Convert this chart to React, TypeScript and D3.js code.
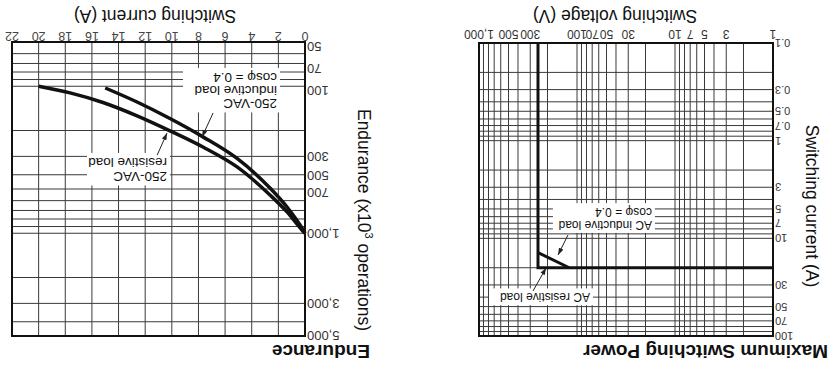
import * as d3 from 'd3';

const FONT = '"Liberation Sans", Arial, Helvetica, sans-serif';

// ---- Maximum Switching Power ----
const voltageTicks = [1, 3, 5, 7, 10, 30, 50, 70, 100, 300, 500, 1000];
const voltageLabels = ['1', '3', '5', '7', '10', '30', '50', '70', '100', '300', '500', '1,000'];
const currentTicks = [0.1, 0.3, 0.5, 0.7, 1, 3, 5, 7, 10, 30, 50, 70, 100];
const currentLabels = ['0.1', '0.3', '0.5', '0.7', '1', '3', '5', '7', '10', '30', '50', '70', '100'];
// [voltage V, current A]
const acResistive: [number, number][] = [[1, 20], [250, 20], [250, 0.1]];
const acInductive: [number, number][] = [[120, 20], [250, 14]];

// ---- Endurance ----
const ampTicks = [0, 2, 4, 6, 8, 10, 12, 14, 16, 18, 20, 22];
const enduranceLabels = ['50', '70', '100', '300', '500', '700', '1,000', '3,000', '5,000'];
// the printed chart puts some labels off their grid line; value each label sits at
const enduranceLabelAt = [54, 76, 107, 300, 408, 532, 1000, 3000, 5000];
// [current A, x10^3 operations]
const resistiveEndurance: [number, number][] = [
  [20, 100], [17.64, 111], [15.17, 129], [12.61, 159], [10.14, 201], [7.66, 259],
  [5.1, 354], [2.63, 549], [1.35, 716], [0.23, 950], [0, 1000],
];
const inductiveEndurance: [number, number][] = [
  [15, 102.7], [12.61, 128], [10.14, 165.7], [7.66, 221], [5.1, 310], [2.63, 492],
  [1.35, 663], [0.23, 921], [0, 1000],
];

// annotations, in data units of each panel
const powerNotes = [
  { lines: ['AC inductive load', 'cosφ = 0.4'], at: [17.2, 6.6], w: 102, lh: 13, from: [123.6, 9.25], to: [156, 14.8] },
  { lines: ['AC resistive load'], at: [73.7, 36.3], w: 104, lh: 13, from: [281, 34.6], to: [207, 20.1] },
];
const enduranceNotes = [
  { lines: ['250-VAC', 'inductive load', 'cosφ = 0.4'], at: [2.1, 122], w: 97, lh: 13, from: [6.9, 152], to: [7.73, 221] },
  { lines: ['250-VAC', 'resistive load'], at: [10.36, 383], w: 83, lh: 14, from: [11.1, 294], to: [10.36, 208] },
];

function logGrid(lo: number, hi: number) {
  const out: number[] = [];
  for (let e = Math.floor(Math.log10(lo) + 1e-9); e <= Math.ceil(Math.log10(hi) - 1e-9); e++) {
    for (let k = 1; k < 10; k++) {
      const v = +(k * Math.pow(10, e)).toPrecision(6);
      if (v >= lo * 0.9999 && v <= hi * 1.0001) out.push(v);
    }
  }
  return out;
}

const P1 = { left: 61, right: 355, top: 36, bottom: 329 };
const P2 = { left: 529, right: 822, top: 36, bottom: 330 };

function Notes({ notes, x, y, fs }: any) {
  return (
    <g>
      {notes.map((n: any, i: number) => {
        const tx = x(n.at[0]);
        const ty = y(n.at[1]);
        return (
          <g key={i}>
            <rect x={tx - 3} y={ty - fs * 0.85 - 2} width={n.w} height={(n.lines.length - 1) * n.lh + fs * 1.15 + 3} fill="#fff" />
            <text x={tx} y={ty} fontSize={fs} fill="#111" fontFamily={FONT}>
              {n.lines.map((l: string, j: number) => (
                <tspan key={j} x={tx} dy={j === 0 ? 0 : n.lh}>{l}</tspan>
              ))}
            </text>
            <line x1={x(n.from[0])} y1={y(n.from[1])} x2={x(n.to[0])} y2={y(n.to[1])}
              stroke="#222" strokeWidth={1} markerEnd="url(#arr)" />
          </g>
        );
      })}
    </g>
  );
}

export default function App() {
  const vx = d3.scaleLog().domain([1, 1000]).range([P1.left, P1.right]);
  const ay = d3.scaleLog().domain([0.1, 100]).range([P1.bottom, P1.top]);
  const ex = d3.scaleLinear().domain([0, 22]).range([P2.left, P2.right]);
  const ey = d3.scaleLog().domain([50, 5000]).range([P2.bottom, P2.top]);

  const powerLine = d3.line<[number, number]>().x((d) => vx(d[0])).y((d) => ay(d[1]));
  const endLine = d3.line<[number, number]>().x((d) => ex(d[0])).y((d) => ey(d[1])).curve(d3.curveMonotoneX);
  const asc = (a: [number, number][]) => [...a].sort((p, q) => p[0] - q[0]);

  const gridStroke = '#3a3a3a';

  return (
    <svg width={834} height={372} style={{ position: 'absolute', left: 0, top: 0, background: '#fff' }}
      fontFamily={FONT}>
      <defs>
        <marker id="arr" viewBox="0 0 10 10" refX="10" refY="5" markerWidth="7" markerHeight="7" orient="auto">
          <path d="M0,1.5 L10,5 L0,8.5 z" fill="#222" />
        </marker>
      </defs>
      <rect width={834} height={372} fill="#fff" />
      <g transform="rotate(180 417 186)">
        {/* ---------- Maximum Switching Power ---------- */}
        <text x={6} y={27} fontSize={19} fontWeight="bold" fill="#111">Maximum Switching Power</text>
        <g>
          {logGrid(1, 1000).map((v) => (
            <line key={'vx' + v} x1={vx(v)} x2={vx(v)} y1={P1.top} y2={P1.bottom} stroke={gridStroke} strokeWidth={1} />
          ))}
          {logGrid(0.1, 100).map((v) => (
            <line key={'ay' + v} x1={P1.left} x2={P1.right} y1={ay(v)} y2={ay(v)} stroke={gridStroke} strokeWidth={1} />
          ))}
          <rect x={P1.left} y={P1.top} width={P1.right - P1.left} height={P1.bottom - P1.top}
            fill="none" stroke="#111" strokeWidth={2} />
          {voltageTicks.map((v, i) => (
            <text key={'vl' + v} x={vx(v)} y={342} fontSize={12} textAnchor="middle" fill="#333">{voltageLabels[i]}</text>
          ))}
          {currentTicks.map((v, i) => (
            <text key={'al' + v} x={59} y={ay(v)} dy="0.35em" fontSize={11} textAnchor="end" fill="#333">{currentLabels[i]}</text>
          ))}
          <path d={powerLine(acResistive) ?? ''} fill="none" stroke="#111" strokeWidth={3} />
          <path d={powerLine(acInductive) ?? ''} fill="none" stroke="#111" strokeWidth={3} />
          <Notes notes={powerNotes} x={vx} y={ay} fs={12} />
          <text x={219} y={362} fontSize={17.5} textAnchor="middle" fill="#111">Switching voltage (V)</text>
          <text transform="translate(28,166) rotate(-90)" fontSize={17.5} textAnchor="middle" fill="#111">Switching current (A)</text>
        </g>

        {/* ---------- Endurance ---------- */}
        <text x={464} y={27} fontSize={19} fontWeight="bold" fill="#111">Endurance</text>
        <g>
          {ampTicks.map((v) => (
            <line key={'ex' + v} x1={ex(v)} x2={ex(v)} y1={P2.top} y2={P2.bottom} stroke={gridStroke} strokeWidth={1} />
          ))}
          {logGrid(50, 5000).map((v) => (
            <line key={'ey' + v} x1={P2.left} x2={P2.right} y1={ey(v)} y2={ey(v)} stroke={gridStroke} strokeWidth={1} />
          ))}
          <rect x={P2.left} y={P2.top} width={P2.right - P2.left} height={P2.bottom - P2.top}
            fill="none" stroke="#111" strokeWidth={2} />
          {ampTicks.map((v) => (
            <text key={'exl' + v} x={ex(v)} y={340} fontSize={12.5} textAnchor="middle" fill="#444">{v}</text>
          ))}
          {enduranceLabels.map((l, i) => (
            <text key={'eyl' + l} x={527} y={ey(enduranceLabelAt[i])} dy="0.35em" fontSize={13} textAnchor="end" fill="#333">{l}</text>
          ))}
          <path d={endLine(asc(resistiveEndurance)) ?? ''} fill="none" stroke="#111" strokeWidth={3.5} />
          <path d={endLine(asc(inductiveEndurance)) ?? ''} fill="none" stroke="#111" strokeWidth={3.5} />
          <Notes notes={enduranceNotes} x={ex} y={ey} fs={13.5} />
          <text x={679} y={362} fontSize={17.5} textAnchor="middle" fill="#111">Switching current (A)</text>
          <text transform="translate(476,152) rotate(-90)" fontSize={17.5} textAnchor="middle" fill="#111">
            Endurance (x10<tspan fontSize={11} dy={-7}>3</tspan><tspan dy={7}> operations)</tspan>
          </text>
        </g>
      </g>
    </svg>
  );
}
